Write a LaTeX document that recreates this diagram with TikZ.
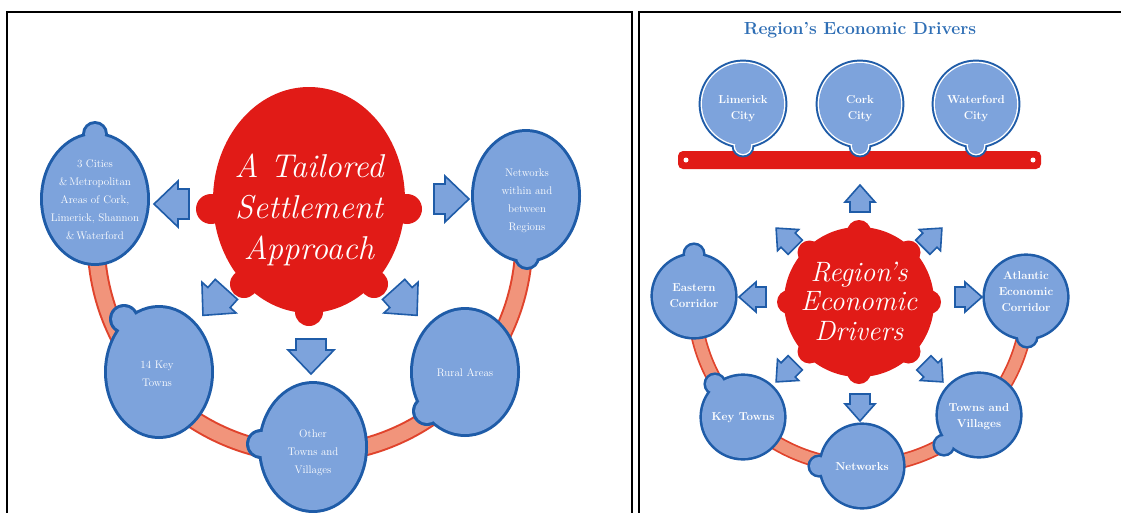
\documentclass[tikz,border=0pt]{standalone}
\definecolor{cblue}{HTML}{7DA3DC}
\definecolor{cborder}{HTML}{1F5CA8}
\definecolor{cred}{HTML}{E11B17}
\definecolor{csalmon}{HTML}{F1947B}
\definecolor{cband}{HTML}{E0432C}
\definecolor{ctitle}{HTML}{2E6EB5}
\newcommand\lbubble[7]{%
  \fill[cborder] (#1,#2) ellipse [x radius=#3+3, y radius=#4+3] (#5,#6) circle [radius=#7+3];
  \fill[cblue] (#1,#2) ellipse [x radius=#3, y radius=#4] (#5,#6) circle [radius=#7];}
\newcommand\rbubble[5]{%
  \fill[cborder] (#1,#2) circle [radius=41+2.6] (#3,#4) circle [radius=#5+2.6];
  \fill[cblue] (#1,#2) circle [radius=41] (#3,#4) circle [radius=#5];}
\newcommand\pinbubble[1]{%
  \fill[cborder] (#1,104) circle [radius=41+3.4] (#1,146) circle [radius=8+3.4];
  \fill[white] (#1,104) circle [radius=41+1.4] (#1,146) circle [radius=8+1.4];
  \fill[cblue] (#1,104) circle [radius=41] (#1,146) circle [radius=8];}
\newcommand\bigarrow[3]{%
  \draw[arrowst, shift={(#1,#2)}, rotate=#3] (-17,-15) -- (-6,-15) -- (-6,-23) -- (18,0) -- (-6,23) -- (-6,15) -- (-17,15) -- cycle;}
\newcommand\smallarrow[3]{%
  \draw[arrowst, shift={(#1,#2)}, rotate=#3] (-13,-10) -- (-3,-10) -- (-3,-15) -- (14,0) -- (-3,15) -- (-3,10) -- (-13,10) -- cycle;}
\tikzset{
  bigtxt/.style={text=white, align=center, inner sep=0pt, font=\itshape\fontsize{33}{41}\selectfont},
  midtxt/.style={text=white, align=center, inner sep=0pt, font=\itshape\fontsize{28}{29.5}\selectfont},
  ltxt/.style={text=white, align=center, inner sep=0pt, font=\fontsize{11}{18}\selectfont},
  rtxt/.style={text=white, align=center, inner sep=0pt, font=\bfseries\fontsize{11.5}{16}\selectfont},
  arrowst/.style={fill=cblue, draw=cborder, line width=1.6pt, line join=miter},
  framest/.style={line width=1.8pt, draw=black},
}
\begin{document}
\begin{tikzpicture}[x=1pt, y=-1pt]
\useasboundingbox[fill=white] (0,0) rectangle (1121,512);
% frames
\draw[framest] (7,516) -- (7,12) -- (632,12) -- (632,516);
\draw[framest] (639,516) -- (639,12) -- (1125,12);

% ===== left panel =====
\draw[cband, line width=19pt] (310,240) ++(176:214) arc [start angle=176, end angle=3, radius=214];
\draw[csalmon, line width=15pt] (310,240) ++(176:214) arc [start angle=176, end angle=3, radius=214];

\lbubble{95}{199}{52}{64}{95}{134}{10}
\lbubble{526}{196}{52}{64}{527}{257}{10}
\lbubble{159}{372}{52}{64}{124}{319}{12}
\lbubble{313}{447}{52}{63}{261}{444}{12}
\lbubble{465}{372}{52}{62}{427}{411}{12}

\fill[cred] (309,200) ellipse [x radius=96, y radius=113]
  (211,209) circle [radius=15] (407,209) circle [radius=15]
  (244,284) circle [radius=14] (374,284) circle [radius=14]
  (309,312) circle [radius=14];

\bigarrow{172}{204}{180}
\bigarrow{451}{199}{0}
\bigarrow{215}{302}{228}
\bigarrow{311}{356}{270}
\bigarrow{405}{302}{312}

\node[bigtxt] (tailored) at (309,210) {A Tailored\\Settlement\\Approach};
\node[ltxt] (cities) at (95,200) {3 Cities\\\&\,Metropolitan\\Areas of Cork,\\Limerick, Shannon\\\&\,Waterford};
\node[ltxt] (netw) at (527,201) {Networks\\within and\\between\\Regions};
\node[ltxt] (keytowns) at (157,374) {14 Key\\Towns};
\node[ltxt] (othertowns) at (313,453) {Other\\Towns and\\Villages};
\node[ltxt] (rural) at (465,373) {Rural Areas};

% ===== right panel =====
\node[text=ctitle, inner sep=0pt, font=\bfseries\fontsize{17.5}{19}\selectfont] (title) at (860,30) {Region’s Economic Drivers};

\fill[cred, rounded corners=5pt] (678,151) rectangle (1041,169);
\fill[white] (686,160) circle [radius=2.5] (1033,160) circle [radius=2.5];
\pinbubble{743}
\pinbubble{860}
\pinbubble{976}
\node[rtxt] (limerick) at (743,109) {Limerick\\City};
\node[rtxt] (cork) at (860,109) {Cork\\City};
\node[rtxt] (waterford) at (976,109) {Waterford\\City};

\draw[cband, line width=15pt] (861,299) ++(180:167) arc [start angle=180, end angle=0, radius=167];
\draw[csalmon, line width=11.5pt] (861,299) ++(180:167) arc [start angle=180, end angle=0, radius=167];

\rbubble{694}{296}{694}{254}{9}
\rbubble{1026}{297}{1027}{337}{9}
\rbubble{743}{417}{715}{384}{9}
\rbubble{979}{415}{944}{445}{9}
\rbubble{862}{466}{819}{466}{9}

\fill[cred] (859,302) circle [radius=75];
\foreach \a in {0,45,...,315} \fill[cred] (859,302) ++(\a:70) circle [radius=12];

\smallarrow{860}{199}{90}
\smallarrow{786}{238}{135}
\smallarrow{932}{238}{45}
\smallarrow{753}{297}{180}
\smallarrow{968}{297}{0}
\smallarrow{786}{372}{225}
\smallarrow{933}{372}{315}
\smallarrow{860}{407}{270}

\node[midtxt] (drivers) at (859,301) {Region’s\\Economic\\Drivers};
\node[rtxt] (eastern) at (694,296) {Eastern\\Corridor};
\node[rtxt] (atlantic) at (1026,292) {Atlantic\\Economic\\Corridor};
\node[rtxt] (rkey) at (743,418) {Key Towns};
\node[rtxt] (rtowns) at (979,417) {Towns and\\Villages};
\node[rtxt] (rnet) at (862,467) {Networks};
\end{tikzpicture}
\end{document}
